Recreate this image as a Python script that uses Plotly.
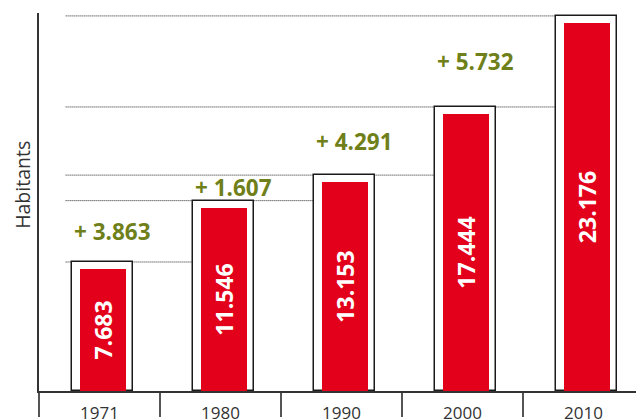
import plotly.graph_objects as go

years = ["1971", "1980", "1990", "2000", "2010"]
habitants = [7683, 11546, 13153, 17444, 23176]

PAD = 440  # extra height of outlined frame over the red bar (style)
SHIFT = 0.025  # bars sit slightly right of category centre (style)

def fmt(v):
    return f"{v:,}".replace(",", ".")

frame_tops = [v + PAD for v in habitants]
deltas = [habitants[i + 1] - habitants[i] for i in range(len(habitants) - 1)]

fig = go.Figure()

# outlined frames
fig.add_trace(go.Bar(x=years, y=frame_tops, width=0.5, offset=-0.25 + SHIFT,
                     marker=dict(color="white", line=dict(color="#1a1a1a", width=1.5)),
                     hoverinfo="skip", showlegend=False))
# red bars
fig.add_trace(go.Bar(x=years, y=habitants, width=0.38, offset=-0.19 + SHIFT,
                     marker=dict(color="#e2001a", line=dict(width=0)),
                     text=[fmt(v) for v in habitants], textposition="inside",
                     insidetextanchor="middle", textangle=-90,
                     textfont=dict(color="white", size=23, family="Open Sans", weight="bold"),
                     showlegend=False))

# dotted reference lines at frame tops (behind the bars)
shapes = []
last = len(years) - 1
for i, t in enumerate(frame_tops):
    shapes.append(dict(type="line", xref="x", yref="y", layer="below",
                       x0=-0.28, x1=min(i + 0.75, last - 0.25) + SHIFT, y0=t, y1=t,
                       line=dict(color="#222222", width=1, dash="1px,1px")))

annotations = []
for i, d in enumerate(deltas):
    ymid = (frame_tops[i] + frame_tops[i + 1]) / 2
    annotations.append(dict(x=i + 0.11, y=ymid, xref="x", yref="y",
                            text="+ " + fmt(d), showarrow=False,
                            font=dict(color="#6f7f1a", size=22.5, family="Open Sans", weight="bold"),
                            xanchor="center", yanchor="middle"))
annotations.append(dict(x=-0.027, y=0.545, xref="paper", yref="paper", text="Habitants",
                        textangle=-90, showarrow=False,
                        font=dict(color="#333333", size=19.5, family="Open Sans"),
                        xanchor="center", yanchor="middle"))

fig.update_layout(
    width=636, height=420,
    margin=dict(l=39, r=0, t=13, b=29, autoexpand=False),
    paper_bgcolor="white", plot_bgcolor="white",
    barmode="overlay", bargap=0,
    annotations=annotations, shapes=shapes,
    xaxis=dict(type="category", range=[-0.5, 4.434],
               tickson="boundaries", ticks="outside", ticklen=24, tickwidth=2,
               tickcolor="#555555", showline=True, linecolor="#333333", linewidth=1.5,
               showgrid=False, zeroline=False, ticklabelstandoff=6, automargin=False,
               tickfont=dict(color="#333333", size=17, family="Open Sans")),
    yaxis=dict(range=[0, 23800], showticklabels=False, ticks="", showgrid=False,
               zeroline=False, showline=True, linecolor="#333333", linewidth=1.5,
               automargin=False),
)

fig.write_html("out.html", config={"displayModeBar": False},
               post_script="document.body.style.margin='0';document.body.style.overflow='hidden';")
